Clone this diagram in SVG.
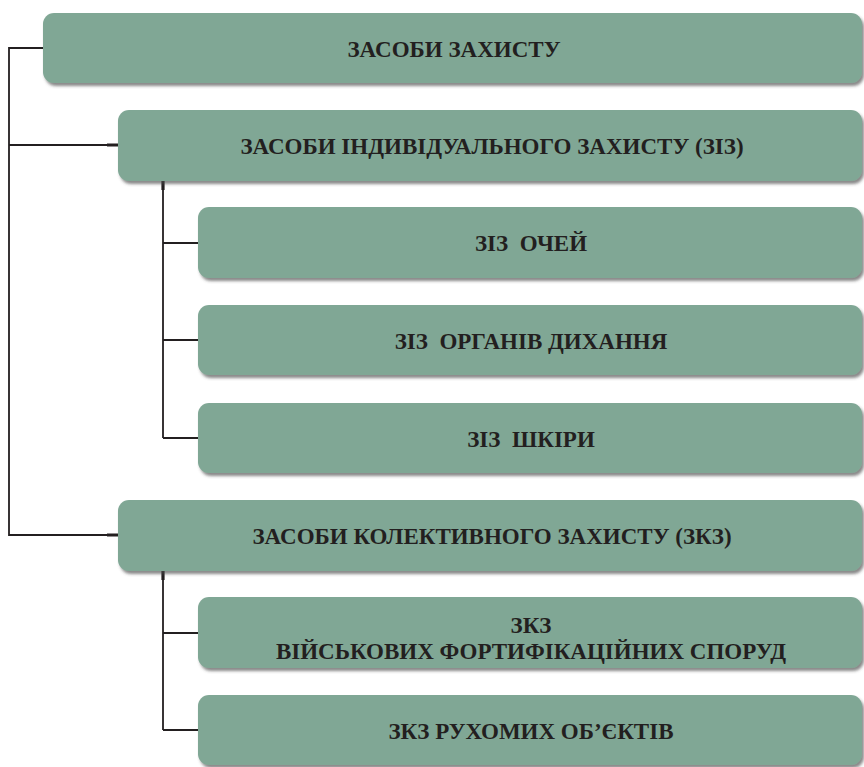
<svg xmlns="http://www.w3.org/2000/svg" width="864" height="767" viewBox="0 0 864 767">
  <defs>
    <filter id="shadow" x="-5%" y="-20%" width="110%" height="150%">
      <feDropShadow dx="2" dy="3" stdDeviation="1.5" flood-color="#4a4a4a" flood-opacity="0.65"/>
    </filter>
  </defs>
  <style>
    .box { fill: #80a795; filter: url(#shadow); }
    .label { font-family: "Liberation Serif", "Times New Roman", serif; font-weight: bold; font-size: 23px; fill: #231f20; text-anchor: middle; }
    .line { stroke: #231f20; stroke-width: 1.8; fill: none; }
    .stub { stroke: #231f20; stroke-width: 3.2; fill: none; }
  </style>
  <rect width="864" height="767" fill="#ffffff"/>

  <!-- connectors -->
  <g id="connectors">
    <path class="line" d="M43 48 H9 V535 H118"/>
    <path class="line" d="M9 145 H118"/>
    <path class="stub" d="M107 145 H118 M107 535 H118"/>
    <path class="line" d="M163 181 V438 M163 243 H198 M163 340 H198 M163 438 H198"/>
    <path class="line" d="M163 571 V730 M163 633 H198 M163 730 H198"/>
    <path class="stub" d="M163 181 V190 M163 571 V580"/>
  </g>

  <g id="node-zasoby-zakhystu">
    <rect class="box" x="43" y="13" width="819" height="70" rx="11"/>
    <text class="label" x="454" y="57">ЗАСОБИ ЗАХИСТУ</text>
  </g>
  <g id="node-ziz">
    <rect class="box" x="118" y="110" width="744" height="71" rx="11"/>
    <text class="label" x="492" y="154">ЗАСОБИ ІНДИВІДУАЛЬНОГО ЗАХИСТУ (ЗІЗ)</text>
  </g>
  <g id="node-ziz-ochei">
    <rect class="box" x="198" y="207" width="664" height="71" rx="11"/>
    <text class="label" x="531" y="251" xml:space="preserve">ЗІЗ  ОЧЕЙ</text>
  </g>
  <g id="node-ziz-dykhannia">
    <rect class="box" x="198" y="305" width="664" height="70" rx="11"/>
    <text class="label" x="531" y="349" xml:space="preserve">ЗІЗ  ОРГАНІВ ДИХАННЯ</text>
  </g>
  <g id="node-ziz-shkiry">
    <rect class="box" x="198" y="403" width="664" height="70" rx="11"/>
    <text class="label" x="531" y="447" xml:space="preserve">ЗІЗ  ШКІРИ</text>
  </g>
  <g id="node-zkz">
    <rect class="box" x="118" y="500" width="744" height="71" rx="11"/>
    <text class="label" x="492" y="544">ЗАСОБИ КОЛЕКТИВНОГО ЗАХИСТУ (ЗКЗ)</text>
  </g>
  <g id="node-zkz-fortyfikatsii">
    <rect class="box" x="198" y="597" width="664" height="71" rx="11"/>
    <text class="label" x="531" y="633">ЗКЗ</text>
    <text class="label" x="531" y="659">ВІЙСЬКОВИХ ФОРТИФІКАЦІЙНИХ СПОРУД</text>
  </g>
  <g id="node-zkz-obiekty">
    <rect class="box" x="198" y="695" width="664" height="70" rx="11"/>
    <text class="label" x="531" y="739">ЗКЗ РУХОМИХ ОБ’ЄКТІВ</text>
  </g>
</svg>
